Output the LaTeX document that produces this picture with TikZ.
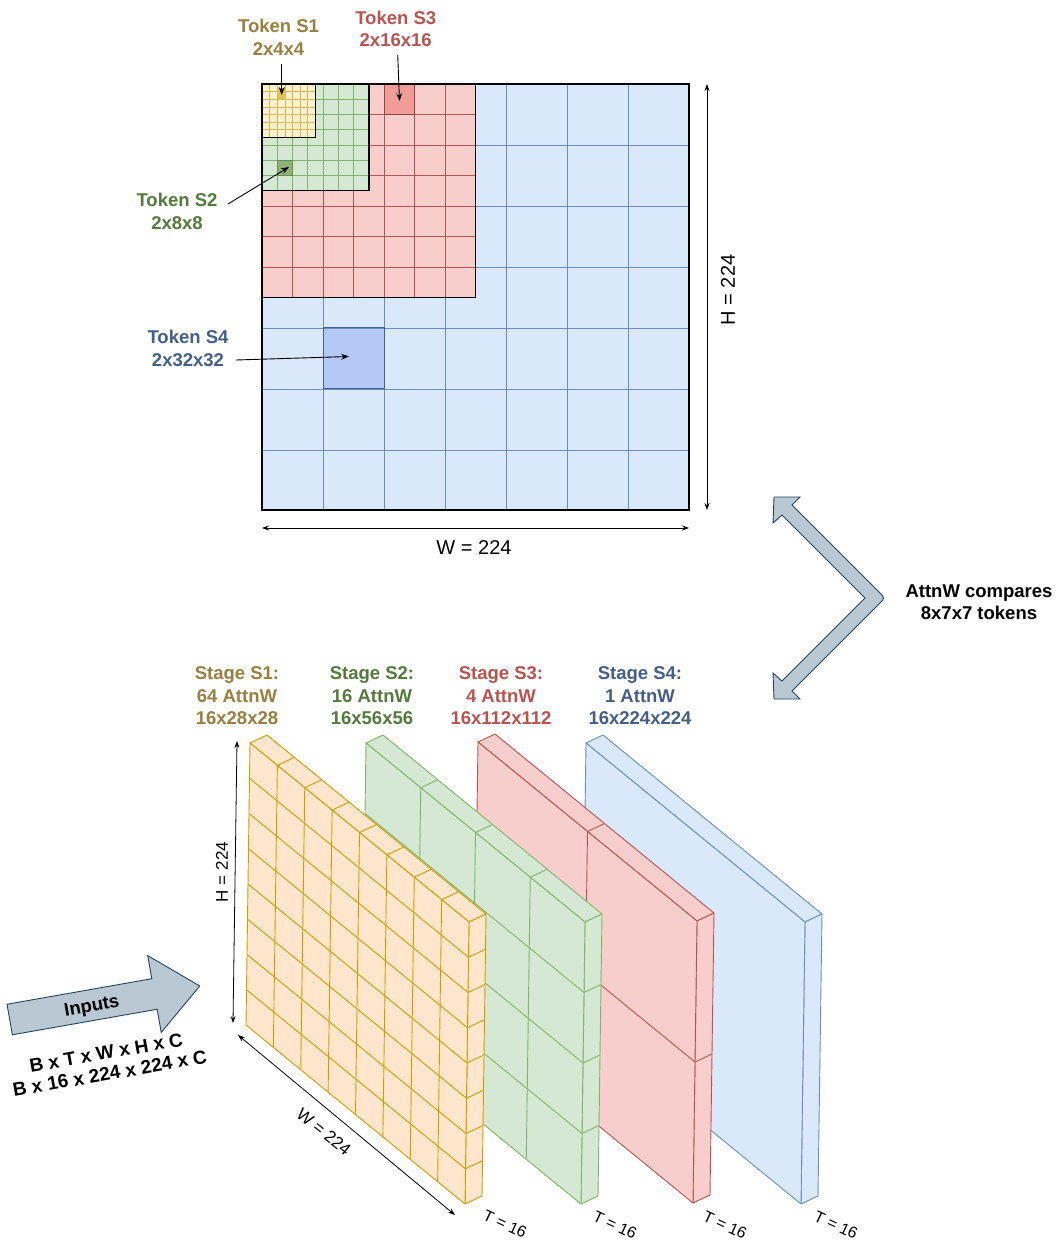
\documentclass[tikz,border=0pt]{standalone}
\usepackage{fontspec}
\setmainfont{Liberation Sans}
\usetikzlibrary{arrows.meta}
\definecolor{bluefill}{HTML}{DAE8FC}
\definecolor{bluedraw}{HTML}{6C8EBF}
\definecolor{redfill}{HTML}{F8CECC}
\definecolor{reddraw}{HTML}{B85450}
\definecolor{greenfill}{HTML}{D5E8D4}
\definecolor{greendraw}{HTML}{82B366}
\definecolor{yellowfill}{HTML}{FFF2CC}
\definecolor{yellowdraw}{HTML}{D6B656}
\definecolor{orangefill}{HTML}{FFE6CC}
\definecolor{orangedraw}{HTML}{D79B00}
\definecolor{arrowfillc}{HTML}{BAC8D3}
\definecolor{arrowdrawc}{HTML}{23445D}
\definecolor{txtone}{RGB}{153,128,62}
\definecolor{txttwo}{RGB}{84,122,60}
\definecolor{txtthree}{HTML}{B85450}
\definecolor{txtfour}{RGB}{68,94,134}
\definecolor{bluetok}{RGB}{181,201,247}
\definecolor{redtok}{HTML}{F19C99}
\definecolor{greentok}{RGB}{141,180,118}
\definecolor{yellowtok}{RGB}{230,190,90}

\newcommand{\slabbody}[4]{%
  \filldraw[fill=#3, draw=#4, slabline] (#1,#2) -- ++(17,-8) -- ++(219,179) -- ++(-17,8) -- cycle;
  \filldraw[fill=#3, draw=#4, slabline] ({#1+219},{#2+179}) -- ++(17,-8) -- ++(-4,282) -- ++(-17,8) -- cycle;
  \filldraw[fill=#3, draw=#4, slabline] (#1,#2) -- ++(219,179) -- ++(-4,282) -- ++(-219,-179) -- cycle;
}
\newcommand{\slabgrid}[5]{%
  \foreach \i in {#5} {
    \draw[draw=#4, slabline] ({#1+219*\i/#3},{#2+179*\i/#3}) ++(17,-8) -- ++(-17,8) -- ++(-4,282);
    \draw[draw=#4, slabline] ({#1-4*\i/#3},{#2+282*\i/#3}) -- ++(219,179) -- ++(17,-8);
  }
}

\begin{document}
\begin{tikzpicture}[x=1pt,y=-1pt,
  slabline/.style={line width=0.9pt, line join=round},
  gridline/.style={line width=0.8pt},
  regionborder/.style={draw=black, line width=1.5pt},
  lab/.style={font=\bfseries\fontsize{18.5}{22.5}\selectfont, align=center, inner sep=0pt},
  dimlab/.style={font=\fontsize{20}{24}\selectfont, inner sep=0pt},
  smalldim/.style={font=\fontsize{17}{20}\selectfont, inner sep=0pt},
  tlab/.style={font=\fontsize{16}{19}\selectfont, inner sep=0pt, rotate=-25},
  tokarrow/.style={-{Stealth[length=8pt,width=6pt]}, line width=0.9pt},
  dimarrow/.style={{Stealth[length=7pt,width=5pt]}-{Stealth[length=7pt,width=5pt]}, line width=0.8pt},
  blockarrow/.style={fill=arrowfillc, draw=arrowdrawc, line width=0.9pt, line join=miter}
]
\useasboundingbox (0,0) rectangle (1062,1241);
\fill[white] (0,0) rectangle (1062,1241);

% ---------- top grid ----------
\fill[bluefill] (262,84) rectangle (689,510);
\fill[bluetok] (323,327) rectangle (384,388);
\foreach \i in {1,...,6} {
  \draw[bluedraw, gridline] ({262+61*\i},84) -- ({262+61*\i},510);
  \draw[bluedraw, gridline] (262,{84+61*\i}) -- (689,{84+61*\i});
}
\draw[arrowdrawc!60!bluedraw, gridline] (323,327) rectangle (384,388);
\draw[regionborder] (262,84) rectangle (689,510);

\fill[redfill] (262,84) rectangle (475.5,297.5);
\fill[redtok] (384,84) rectangle (414.5,114.5);
\foreach \i in {1,...,6} {
  \draw[reddraw, gridline] ({262+30.5*\i},84) -- ({262+30.5*\i},297.5);
  \draw[reddraw, gridline] (262,{84+30.5*\i}) -- (475.5,{84+30.5*\i});
}
\draw[reddraw!80!black, gridline] (384,84) rectangle (414.5,114.5);
\draw[regionborder] (262,84) rectangle (475.5,297.5);

\fill[greenfill] (262,84) rectangle (368.75,190.75);
\fill[greentok] (277.25,160.25) rectangle (292.5,175.5);
\foreach \i in {1,...,6} {
  \draw[greendraw, gridline] ({262+15.25*\i},84) -- ({262+15.25*\i},190.75);
  \draw[greendraw, gridline] (262,{84+15.25*\i}) -- (368.75,{84+15.25*\i});
}
\draw[greendraw!80!black, gridline] (277.25,160.25) rectangle (292.5,175.5);
\draw[regionborder] (262,84) rectangle (368.75,190.75);

\fill[yellowfill] (262,84) rectangle (315.4,137.4);
\fill[yellowtok] (277.2,88) rectangle (284.8,99.2);
\foreach \i in {1,...,6} {
  \draw[yellowdraw, line width=0.6pt] ({262+7.625*\i},84) -- ({262+7.625*\i},137.4);
  \draw[yellowdraw, line width=0.6pt] (262,{84+7.625*\i}) -- (315.4,{84+7.625*\i});
}
\draw[regionborder] (262,84) rectangle (315.4,137.4);

% token labels and arrows
\node[lab, text=txtone] (tokS1) at (278.5,37.5) {Token S1\\2x4x4};
\node[lab, text=txtthree] (tokS3) at (395.7,29) {Token S3\\2x16x16};
\node[lab, text=txttwo] (tokS2) at (177,211.5) {Token S2\\2x8x8};
\node[lab, text=txtfour] (tokS4) at (188,348.5) {Token S4\\2x32x32};
\coordinate (a1s) at (281.7,64);  \coordinate (a1e) at (281.7,95);
\coordinate (a3s) at (397.7,55);  \coordinate (a3e) at (399.5,101);
\coordinate (a2s) at (228,204);   \coordinate (a2e) at (289,167);
\coordinate (a4s) at (236,360);   \coordinate (a4e) at (349,356.5);
\draw[tokarrow] (a1s) -- (a1e);
\draw[tokarrow] (a3s) -- (a3e);
\draw[tokarrow] (a2s) -- (a2e);
\draw[tokarrow] (a4s) -- (a4e);

% top dimensions
\coordinate (wl) at (262,528); \coordinate (wr) at (689,528);
\coordinate (ht) at (707,84);  \coordinate (hb) at (707,510);
\draw[dimarrow] (wl) -- (wr);
\draw[dimarrow] (ht) -- (hb);
\node[dimlab] (wtop) at (474,548) {W = 224};
\node[dimlab, rotate=90] (htop) at (728,290) {H = 224};

% ---------- bent double arrow ----------
\filldraw[blockarrow] (774,497) -- (800,497) -- (792,505) -- (879,592) .. controls (885,598) .. (879,604)
  -- (792,691) -- (800,699) -- (774,699) -- (773,673) -- (782,681) -- (865,598) -- (782,515) -- (773,523) -- cycle;
\node[lab, text=black] (attn) at (979,602) {AttnW compares\\8x7x7 tokens};

% ---------- stage labels ----------
\node[lab, text=txtone] (st1) at (237,696) {Stage S1:\\64 AttnW\\16x28x28};
\node[lab, text=txttwo] (st2) at (372,696) {Stage S2:\\16 AttnW\\16x56x56};
\node[lab, text=txtthree] (st3) at (501,696) {Stage S3:\\4 AttnW\\16x112x112};
\node[lab, text=txtfour] (st4) at (640,696) {Stage S4:\\1 AttnW\\16x224x224};

% ---------- slabs ----------
\slabbody{586}{743}{bluefill}{bluedraw}
\slabbody{478}{742}{redfill}{reddraw}
\slabgrid{478}{742}{2}{reddraw}{1}
\slabbody{366}{743}{greenfill}{greendraw}
\slabgrid{366}{743}{4}{greendraw}{1,2,3}
\slabbody{250}{743}{orangefill}{orangedraw}
\slabgrid{250}{743}{8}{orangedraw}{1,...,7}

% bottom dimensions
\coordinate (bht) at (237,741); \coordinate (bhb) at (233,1023);
\coordinate (bwl) at (238,1035); \coordinate (bwr) at (455,1215);
\draw[dimarrow] (bht) -- (bhb);
\draw[dimarrow] (bwl) -- (bwr);
\node[smalldim, rotate=90] (hbot) at (222,872) {H = 224};
\node[smalldim, rotate=-39] (wbot) at (324,1132) {W = 224};
\node[tlab] (t1) at (505,1224) {T = 16};
\node[tlab] (t2) at (615,1225) {T = 16};
\node[tlab] (t3) at (725,1225) {T = 16};
\node[tlab] (t4) at (836,1225) {T = 16};

% ---------- inputs arrow ----------
\begin{scope}[shift={(9.7,1019.5)}, rotate=10]
  \filldraw[blockarrow] (0,-15.5) -- (147,-15.5) -- (147,-39) -- (193,0) -- (147,39) -- (147,15.5) -- (0,15.5) -- cycle;
\end{scope}
\node[lab, text=black, rotate=10] (inputs) at (92,1007) {Inputs};
\node[font=\bfseries\fontsize{19}{21}\selectfont, align=center, inner sep=0pt, rotate=10] (dims) at (108,1063) {B x T x W x H x C\\B x 16 x 224 x 224 x C};
\end{tikzpicture}
\end{document}
